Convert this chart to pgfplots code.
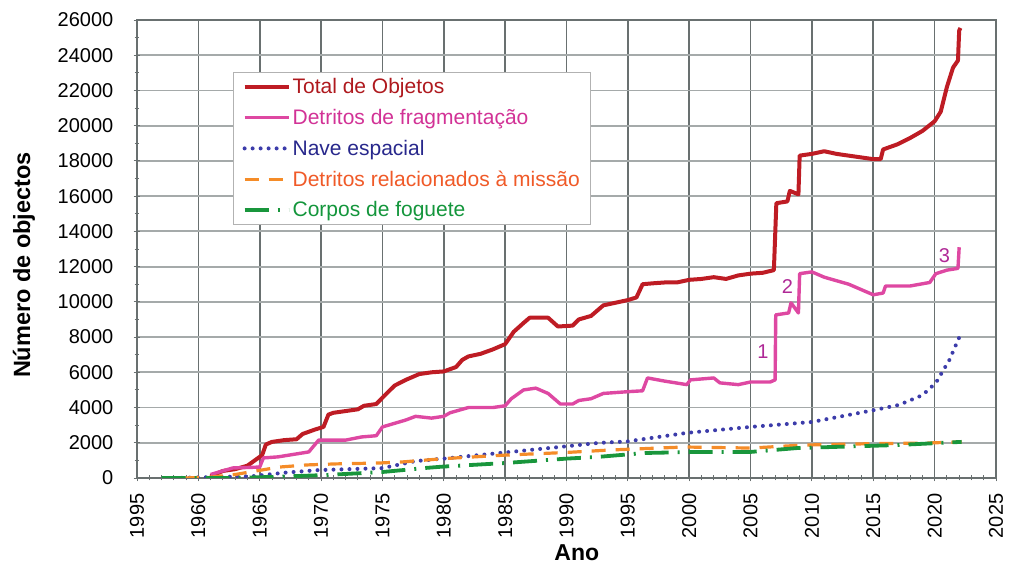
\documentclass[border=0pt]{standalone}
\usepackage{pgfplots}
\pgfplotsset{compat=1.18}
\usepackage{fontspec}
\setmainfont{Liberation Sans}
\definecolor{cTot}{RGB}{190,28,36}
\definecolor{cFrag}{RGB}{222,72,162}
\definecolor{cNave}{RGB}{60,60,170}
\definecolor{cMis}{RGB}{245,140,40}
\definecolor{cRock}{RGB}{25,150,60}
\definecolor{tTot}{RGB}{175,25,30}
\definecolor{tFrag}{RGB}{210,50,150}
\definecolor{tNave}{RGB}{40,40,140}
\definecolor{tMis}{RGB}{240,90,40}
\definecolor{tRock}{RGB}{20,150,60}
\definecolor{cAnn}{RGB}{175,40,150}
\definecolor{gridx}{RGB}{105,112,112}
\definecolor{gridy}{RGB}{165,170,170}
\begin{document}
\begin{tikzpicture}
\begin{axis}[name=ax,
  scale only axis, width=859pt, height=458pt,
  xmin=1955, xmax=2025, ymin=0, ymax=26000,
  xtick={1955,1960,...,2025},
  xticklabels={1995,1960,1965,1970,1975,1980,1985,1990,1995,2000,2005,2010,2015,2020,2025},
  ytick={0,2000,...,26000},
  minor x tick num=4, minor y tick num=1,
  scaled y ticks=false,
  /pgf/number format/1000 sep={},
  /pgf/number format/assume math mode=true,
  grid=major,
  x grid style={draw=gridx, line width=1.6pt},
  y grid style={draw=gridy, line width=1.8pt},
  axis line style={draw=gridx, line width=1.6pt},
  tick style={draw=gridx, line width=0.9pt},
  major tick length=7pt, minor tick length=5pt,
  tick align=center,
  xtick pos=left, ytick pos=left,
  yticklabel style={font=\fontsize{20}{22}\selectfont, anchor=east, inner xsep=0pt, xshift=-20pt},
  xticklabel style={font=\fontsize{20}{22}\selectfont, rotate=90, anchor=east, inner xsep=12pt, inner ysep=0pt},
  xlabel={Ano}, ylabel={Número de objectos},
  xlabel style={font=\bfseries\fontsize{23}{26}\selectfont, at={(axis description cs:0.512,-0.163)}, anchor=center},
  ylabel style={font=\bfseries\fontsize{23.5}{26}\selectfont, at={(axis description cs:-0.1315,0.465)}, anchor=center, rotate=0},
  legend style={at={(axis description cs:0.112,0.886)}, anchor=north west,
    draw=gray!60, line width=0.8pt, fill=white,
    font=\fontsize{21}{24}\selectfont, row sep=10pt,
    inner xsep=9pt, inner ysep=4pt},
  legend cell align=left,
  legend image code/.code={\draw[#1] (0pt,0pt) -- (44pt,0pt);},
]
\addplot[cTot, line width=4pt, line join=round] coordinates {
(1961,100)(1962,400)(1963,500)(1964,700)(1964.8,1100)(1965.2,1300)(1965.5,1900)(1966,2050)(1967,2150)(1968,2200)(1968.5,2500)(1969.5,2750)(1970.2,2900)(1970.6,3600)(1971,3700)(1972,3800)(1973,3900)(1973.5,4100)(1974.5,4200)(1975.2,4700)(1976,5250)(1977,5600)(1978,5900)(1979,6000)(1980,6050)(1981,6300)(1981.5,6700)(1982,6900)(1983,7050)(1984,7300)(1985,7600)(1985.7,8300)(1986.5,8800)(1987,9100)(1988.5,9100)(1989.3,8600)(1990.5,8650)(1991,9000)(1992,9200)(1993,9800)(1994,9950)(1995,10100)(1995.7,10250)(1996.2,11000)(1997,11050)(1998,11100)(1999,11100)(2000,11250)(2001,11300)(2002,11400)(2003,11300)(2004,11500)(2005,11600)(2006,11650)(2006.9,11800)(2007.1,15600)(2008,15700)(2008.2,16300)(2008.9,16100)(2009,18300)(2010,18400)(2011,18550)(2012,18400)(2013,18300)(2014,18200)(2015,18100)(2015.6,18100)(2015.8,18650)(2017,18950)(2018,19300)(2019,19700)(2020,20250)(2020.5,20800)(2021,22200)(2021.5,23300)(2021.9,23700)(2022,25400)(2022.1,25550)
};
\addlegendentry{\textcolor{tTot}{Total de Objetos}}
\addplot[cFrag, line width=3.4pt, line join=round] coordinates {
(1961,200)(1962.8,570)(1965,620)(1965.3,1140)(1966.5,1200)(1969,1480)(1969.8,2150)(1972,2150)(1973.3,2330)(1974.5,2400)(1975,2900)(1976.9,3290)(1977.7,3500)(1979,3400)(1980,3500)(1980.5,3700)(1981,3800)(1982,4000)(1983,4000)(1984,4000)(1985,4100)(1985.5,4500)(1986.5,5000)(1987.5,5100)(1988.5,4800)(1989.5,4200)(1990.5,4200)(1991,4400)(1992,4500)(1993,4800)(1995,4900)(1996.2,4950)(1996.6,5680)(1998,5500)(1999.8,5300)(2000.1,5570)(2002,5680)(2002.5,5400)(2004,5300)(2005,5450)(2006.6,5450)(2007,5570)(2007.05,9260)(2008.1,9370)(2008.3,9940)(2008.9,9370)(2009,11600)(2010,11700)(2011,11400)(2012,11200)(2013,11000)(2014,10700)(2015,10400)(2015.8,10500)(2016,10900)(2018,10900)(2019.6,11100)(2020.1,11600)(2021,11800)(2021.9,11900)(2022,13100)
};
\addlegendentry{\textcolor{tFrag}{Detritos de fragmentação}}
\addplot[cNave, line width=4pt, line cap=round, dash pattern=on 0pt off 8pt] coordinates {
(1958,0)(1961,50)(1964.4,100)(1967,300)(1969.8,450)(1975,560)(1977.7,960)(1980,1100)(1985,1450)(1990,1800)(1992.6,1990)(1995,2080)(1999.8,2560)(2005,2900)(2010,3180)(2015.1,3860)(2017.1,4150)(2019,4700)(2020.1,5400)(2021.2,6700)(2022.2,8300)
};
\addlegendentry{\textcolor{tNave}{Nave espacial}}
\addplot[cMis, line width=3.2pt, dash pattern=on 14pt off 10pt] coordinates {
(1958.9,0)(1961,50)(1963,200)(1966.6,620)(1968.8,740)(1971.2,800)(1974.7,850)(1976.6,910)(1980,1100)(1985,1300)(1990,1450)(1993.6,1590)(1999.6,1760)(2005,1700)(2009.3,1870)(2015,1950)(2019.6,1990)(2022.2,2050)
};
\addlegendentry{\textcolor{tMis}{Detritos relacionados à missão}}
\addplot[cRock, line width=3.8pt, dash pattern=on 24pt off 9pt on 2pt off 9pt] coordinates {
(1957,0)(1962.5,0)(1966,60)(1970.4,170)(1975,340)(1978.5,570)(1980,650)(1985,850)(1990,1100)(1992.6,1200)(1996.4,1420)(2000.7,1480)(2005,1480)(2008.8,1700)(2016.9,1870)(2022.2,2050)
};
\addlegendentry{\textcolor{tRock}{Corpos de foguete}}
\node[text=cAnn, font=\fontsize{20}{22}\selectfont] at (axis cs:2006,7160) {1};
\node[text=cAnn, font=\fontsize{20}{22}\selectfont] at (axis cs:2008,10850) {2};
\node[text=cAnn, font=\fontsize{20}{22}\selectfont] at (axis cs:2020.8,12610) {3};
\end{axis}
\pgfresetboundingbox
\path ([xshift=-137pt,yshift=-89pt]ax.south west) rectangle ([xshift=13pt,yshift=20pt]ax.north east);
\end{tikzpicture}
\end{document}
